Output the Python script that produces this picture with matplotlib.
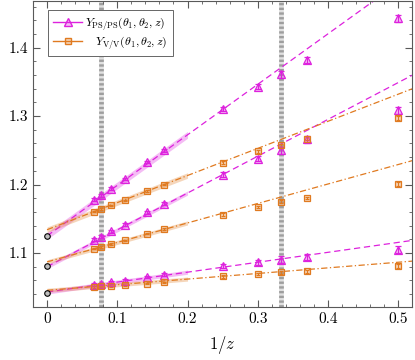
import numpy as np
import matplotlib
matplotlib.use("Agg")
import matplotlib.pyplot as plt
from matplotlib.lines import Line2D

plt.rcParams.update({
    "font.family": "serif",
    "font.serif": ["cmr10"],
    "mathtext.fontset": "cm",
    "axes.formatter.use_mathtext": True,
    "font.size": 11,
})

# 1/z positions of the lattice points
x_pts = [1/15, 1/13, 1/11, 1/9, 1/7, 1/6, 1/4, 0.30, 1/3, 0.37, 1/2]

# Y_PS/PS, three (theta1, theta2) settings
ps_top = [1.178, 1.184, 1.194, 1.208, 1.233, 1.250, 1.310, 1.343, 1.361, 1.382, 1.443]
ps_mid = [1.1195, 1.124, 1.1316, 1.1414, 1.1594, 1.1722, 1.2146, 1.238, 1.250, 1.2659, 1.3083]
ps_bot = [1.0536, 1.0546, 1.057, 1.0594, 1.0649, 1.0682, 1.0804, 1.0862, 1.0902, 1.0941, 1.1048]
ps_err = [0.002, 0.002, 0.002, 0.002, 0.002, 0.002, 0.003, 0.004, 0.005, 0.005, 0.005]

# Y_V/V
v_top = [1.1605, 1.1644, 1.1697, 1.177, 1.1908, 1.200, 1.2318, 1.2483, 1.2571, 1.2669, 1.2977]
v_mid = [1.1063, 1.1088, 1.1132, 1.1185, 1.1283, 1.1351, 1.156, 1.1673, 1.1747, 1.1805, 1.201]
v_bot = [1.0502, 1.0511, 1.0514, 1.0526, 1.055, 1.057, 1.0657, 1.0693, 1.0716, 1.0731, 1.0804]
v_err = [0.001, 0.001, 0.001, 0.001, 0.001, 0.001, 0.002, 0.002, 0.002, 0.002, 0.003]

# continuum values at 1/z = 0
y0_vals = [1.125, 1.0804, 1.042]
y0_err = [0.002, 0.002, 0.002]

# linear fits: (intercept, slope, band half width)
ps_fits = [(1.125, 0.738, 0.005), (1.080, 0.538, 0.003), (1.043, 0.145, 0.003)]
v_fits = [(1.134, 0.396, 0.004), (1.087, 0.2845, 0.003), (1.0455, 0.082, 0.003)]

vlines = [1/13, 1/3]

c_ps = "#dd22dd"
c_v = "#e07a20"
f_ps = (0.87, 0.13, 0.87, 0.3)
f_v = (0.88, 0.48, 0.13, 0.3)

fig = plt.figure(figsize=(4.15, 3.6), dpi=100)
ax = fig.add_axes([0.0795, 0.147, 0.914, 0.850])

for xv in vlines:
    ax.axvline(xv, color="0.88", lw=3.4, zorder=1)
    ax.axvline(xv, color="0.62", lw=3.4, ls=(0, (0.5, 0.5)), zorder=1)

xl = np.array([0.0, 0.53])
xb = np.array([0.0, 0.2])
for fits, col, ls in [(ps_fits, c_ps, (0, (5, 3))), (v_fits, c_v, (0, (5, 2, 1, 2)))]:
    for a, b, w in fits:
        ax.plot(xl, a + b * xl, color=col, lw=0.9, ls=ls, zorder=2)
        ax.fill_between(xb, a + b * xb - w, a + b * xb + w, color=col,
                        alpha=0.3, lw=0, zorder=2)

for ys in [ps_top, ps_mid, ps_bot]:
    ax.errorbar(x_pts, ys, yerr=ps_err, fmt="^", ms=5.5, mfc=f_ps,
                mec=c_ps, ecolor=c_ps, mew=0.9, elinewidth=0.8, capsize=2, zorder=4)
for ys in [v_top, v_mid, v_bot]:
    ax.errorbar(x_pts, ys, yerr=v_err, fmt="s", ms=4.3, mfc=f_v,
                mec=c_v, ecolor=c_v, mew=0.9, elinewidth=0.8, capsize=1.5, zorder=4)

ax.errorbar([0, 0, 0], y0_vals, yerr=y0_err, fmt="o", ms=4, mfc="0.75", mec="black",
            ecolor="black", mew=0.8, elinewidth=0.8, capsize=0, zorder=5)

ax.set_xlim(-0.02, 0.52)
ax.set_ylim(1.021, 1.468)
ax.set_xticks([0, 0.1, 0.2, 0.3, 0.4, 0.5])
ax.set_xticklabels(["0", "0.1", "0.2", "0.3", "0.4", "0.5"])
ax.set_xticks(np.arange(-0.02, 0.521, 0.02), minor=True)
ax.set_yticks([1.1, 1.2, 1.3, 1.4])
ax.set_yticklabels(["1.1", "1.2", "1.3", "1.4"])
ax.set_yticks(np.arange(1.04, 1.47, 0.02), minor=True)
ax.tick_params(which="both", direction="in", top=True, right=True, color="0.35")
ax.tick_params(which="major", length=5, width=0.8)
ax.tick_params(which="minor", length=2.5, width=0.6)
for s in ax.spines.values():
    s.set_color("0.35")
ax.set_xlabel(r"$1/z$", fontsize=12, labelpad=6)

handles = [
    Line2D([], [], color=c_ps, lw=1.0, marker="^", ms=5.5, mfc=f_ps, mec=c_ps),
    Line2D([], [], color=c_v, lw=1.0, marker="s", ms=4.3, mfc=f_v, mec=c_v),
]
labels = [r"$Y_{\rm PS/PS}(\theta_1,\theta_2,z)$", r"$\ \ \ Y_{\rm V/V}(\theta_1,\theta_2,z)$"]
leg = ax.legend(handles, labels, loc="upper left", bbox_to_anchor=(0.025, 0.99),
                fontsize=8.6, fancybox=False, edgecolor="0.4", framealpha=1,
                handlelength=2.4, handletextpad=0.3, borderpad=0.4, labelspacing=0.2)
leg.get_frame().set_linewidth(0.7)
leg.set_zorder(6)

fig.savefig("out.png", dpi=100)
